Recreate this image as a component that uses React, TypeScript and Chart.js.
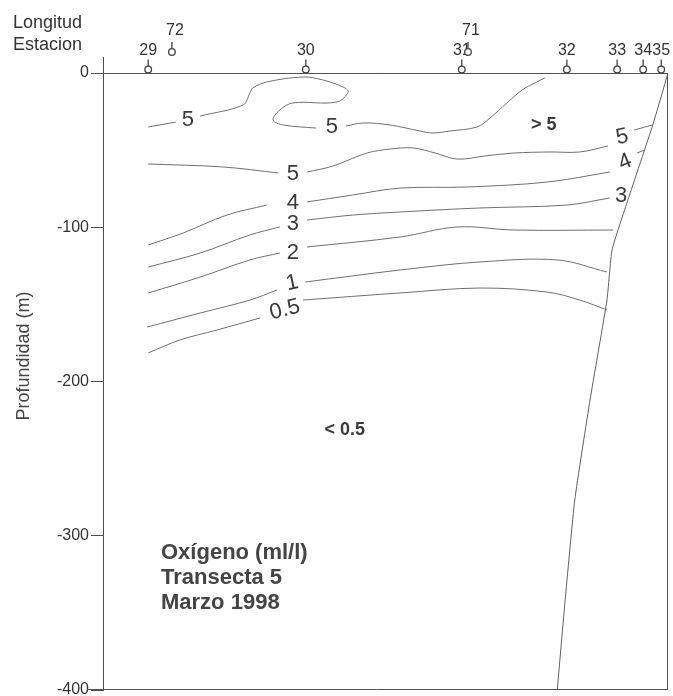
import React, { useEffect, useRef } from "react";
import { Chart, registerables } from "chart.js";

Chart.register(...registerables);

const FONT = '"Liberation Sans", Arial, Helvetica, sans-serif';

// ---- Data ----
const depthMin = -400;
const depthMax = 0;
const depthStep = 100;

// stations along the transect (relative distance 0..100)
const stationNames = ["29", "72", "30", "31", "71", "32", "33", "34", "35"];
const stationX = [8.0, 12.2, 35.9, 63.5, 64.6, 82.1, 91.0, 95.6, 98.8];
const stationRaised = [false, true, false, false, true, false, false, false, false];

type P = [number, number] | null;

// isolines (x, depth m); null = gap for the label
const iso5Upper: P[] = [
  [8.0, -35.0], [12.9, -31.8], null,
  [17.2, -27.9], [24.8, -20.7], [26.0, -13.0], [26.5, -9.7], [29.0, -5.8],
  [35.4, -2.6], [38.9, -4.5], [42.5, -9.1], [43.4, -12.3], [41.4, -18.8],
  [33.6, -19.4], [31.3, -24.0], [30.1, -30.5], [31.9, -33.7], [37.7, -35.7], null,
  [43.0, -34.4], [46.0, -32.4], [50.8, -33.7], [56.1, -37.6], [58.4, -38.9],
  [61.4, -37.6], [66.2, -35.0], [68.5, -29.2], [71.5, -19.4], [74.2, -11.0],
  [76.8, -5.8], [78.2, -3.2],
];
const iso5: P[] = [
  [8.0, -59.0], [21.2, -60.9], [31.0, -64.8], null,
  [36.1, -64.2], [40.7, -60.3], [46.7, -51.9], [50.8, -49.3], [54.9, -48.6],
  [58.8, -51.9], [62.7, -55.8], [67.6, -53.8], [72.6, -51.9], [79.1, -51.2],
  [84.4, -51.2], [89.4, -47.3], null,
  [94.0, -37.0], [97.2, -33.7],
];
const iso4: P[] = [
  [8.0, -111.5], [14.2, -103.7], [21.9, -92.1], [29.0, -85.6], null,
  [36.1, -83.6], [44.2, -79.1], [52.6, -74.6], [64.4, -73.9], [78.6, -70.7],
  [89.7, -64.2], null,
  [94.5, -51.9], [95.9, -49.9],
];
const iso3: P[] = [
  [8.0, -125.8], [17.2, -116.7], [26.0, -105.0], [31.3, -99.8], null,
  [36.1, -95.3], [44.2, -92.1], [52.6, -90.1], [66.7, -87.5], [82.1, -85.6],
  [89.7, -81.0],
];
const iso2: P[] = [
  [8.0, -142.6], [17.2, -132.3], [26.0, -121.2], [31.3, -116.7], null,
  [36.1, -112.8], [52.6, -106.3], [62.7, -99.8], [72.6, -101.8], [90.3, -101.8],
];
const iso1: P[] = [
  [7.8, -164.7], [17.2, -155.6], [26.0, -147.2], [30.8, -140.7], null,
  [35.8, -135.5], [52.6, -127.7], [66.7, -122.5], [80.4, -121.2], [89.2, -129.0],
];
const iso05: P[] = [
  [8.0, -181.5], [13.6, -173.1], [20.2, -166.6], [27.8, -158.8], null,
  [35.4, -147.2], [52.6, -142.6], [66.7, -139.4], [78.6, -142.0], [84.4, -147.2],
  [89.2, -153.6],
];
// sea floor / slope
const bottomProfile: P[] = [
  [100, 0], [97.3, -33.7], [92.9, -82.3], [90.1, -114.7], [89.2, -147.1],
  [86.2, -212.0], [83.5, -276.8], [81.8, -341.6], [80.4, -400],
];

// contour labels
const labelText = ["5", "5", "> 5", "5", "5", "4", "4", "3", "3", "2", "1", "0.5", "< 0.5"];
const labelX = [15.0, 40.5, 78.0, 33.6, 91.9, 33.6, 92.4, 33.6, 91.7, 33.6, 33.5, 32.2, 42.8];
const labelY = [-30.5, -35.0, -33.7, -65.5, -41.5, -84.3, -57.7, -97.9, -79.7, -116.7, -136.1, -153.6, -231.4];
const labelBold = [false, false, true, false, false, false, false, false, false, false, false, false, true];
const labelRot = [0, 0, 0, 0, -12, 0, -22, 0, 0, 0, -12, -14, 0];

const titleLines = ["Oxígeno (ml/l)", "Transecta 5", "Marzo 1998"];

function segments(pts: P[]) {
  const out: { x: number; y: number }[][] = [];
  let cur: { x: number; y: number }[] = [];
  for (const p of pts) {
    if (p === null) {
      if (cur.length) out.push(cur);
      cur = [];
    } else cur.push({ x: p[0], y: p[1] });
  }
  if (cur.length) out.push(cur);
  return out;
}

export default function App() {
  const ref = useRef<HTMLCanvasElement>(null);

  useEffect(() => {
    const canvas = ref.current;
    if (!canvas) return;
    const datasets: any[] = [];
    const add = (pts: P[], color: string, tension: number) => {
      for (const seg of segments(pts)) {
        datasets.push({
          data: seg,
          showLine: true,
          borderColor: color,
          borderWidth: 1,
          pointRadius: 0,
          tension,
          fill: false,
        });
      }
    };
    const lineColor = "#707070";
    add(iso5Upper, lineColor, 0.35);
    add(iso5, lineColor, 0.35);
    add(iso4, lineColor, 0.35);
    add(iso3, lineColor, 0.35);
    add(iso2, lineColor, 0.35);
    add(iso1, lineColor, 0.35);
    add(iso05, lineColor, 0.35);
    add(bottomProfile, "#606060", 0.15);

    const overlay = {
      id: "overlay",
      afterDraw(chart: any) {
        const { ctx, chartArea: a, scales } = chart;
        const xs = scales.x;
        const ys = scales.y;
        ctx.save();
        // frame
        ctx.strokeStyle = "#505050";
        ctx.lineWidth = 1;
        ctx.beginPath();
        ctx.moveTo(a.left - 12, Math.round(a.top) + 0.5);
        ctx.lineTo(a.right, Math.round(a.top) + 0.5);
        ctx.moveTo(Math.round(a.right) - 0.5, a.top);
        ctx.lineTo(Math.round(a.right) - 0.5, a.bottom);
        ctx.moveTo(a.left - 16, Math.round(a.bottom) - 0.5);
        ctx.lineTo(a.right, Math.round(a.bottom) - 0.5);
        ctx.moveTo(Math.round(a.left) + 0.5, a.top - 16);
        ctx.lineTo(Math.round(a.left) + 0.5, a.top);
        ctx.stroke();

        // stations
        ctx.font = `16px ${FONT}`;
        ctx.textAlign = "center";
        ctx.textBaseline = "alphabetic";
        for (let i = 0; i < stationNames.length; i++) {
          const px = xs.getPixelForValue(stationX[i]);
          const cy = stationRaised[i] ? a.top - 21 : a.top - 3.5;
          ctx.strokeStyle = "#404040";
          ctx.lineWidth = 1.3;
          ctx.beginPath();
          ctx.moveTo(px, cy - 3.5);
          ctx.lineTo(px, cy - 10);
          ctx.stroke();
          ctx.beginPath();
          ctx.arc(px, cy, 3.3, 0, Math.PI * 2);
          ctx.fillStyle = "#fff";
          ctx.fill();
          ctx.stroke();
          ctx.fillStyle = "#333";
          ctx.fillText(stationNames[i], px + (stationRaised[i] ? 3 : 0), cy - (stationRaised[i] ? 17 : 15));
        }

        // header text
        ctx.textAlign = "left";
        ctx.fillStyle = "#333";
        ctx.font = `18px ${FONT}`;
        ctx.fillText("Longitud", 13, 28);
        ctx.fillText("Estacion", 13, 50);

        // y-axis title
        ctx.save();
        ctx.translate(29, 356);
        ctx.rotate(-Math.PI / 2);
        ctx.textAlign = "center";
        ctx.font = `18px ${FONT}`;
        ctx.fillStyle = "#444";
        ctx.fillText("Profundidad (m)", 0, 0);
        ctx.restore();

        // contour labels
        for (let i = 0; i < labelText.length; i++) {
          const px = xs.getPixelForValue(labelX[i]);
          const py = ys.getPixelForValue(labelY[i]);
          ctx.save();
          ctx.translate(px, py);
          ctx.rotate((labelRot[i] * Math.PI) / 180);
          ctx.textAlign = "center";
          ctx.textBaseline = "middle";
          ctx.fillStyle = "#3a3a3a";
          ctx.font = labelBold[i] ? `bold 18px ${FONT}` : `22px ${FONT}`;
          ctx.fillText(labelText[i], 0, 0);
          ctx.restore();
        }

        // title block
        ctx.textAlign = "left";
        ctx.textBaseline = "alphabetic";
        ctx.fillStyle = "#444";
        ctx.font = `bold 22px ${FONT}`;
        titleLines.forEach((t, i) => ctx.fillText(t, 161, 559 + i * 25));
        ctx.restore();
      },
    };

    const chart = new Chart(canvas, {
      type: "scatter",
      data: { datasets },
      options: {
        responsive: false,
        maintainAspectRatio: false,
        animation: false,
        devicePixelRatio: 1,
        layout: { padding: { top: 73, right: 5, bottom: 6, left: 0 } },
        plugins: { legend: { display: false }, tooltip: { enabled: false } },
        scales: {
          x: { type: "linear", min: 0, max: 100, display: false },
          y: {
            type: "linear",
            position: "left",
            min: depthMin,
            max: depthMax,
            afterFit: (s: any) => {
              s.width = 103;
              s.paddingTop = 0;
              s.paddingBottom = 0;
            },
            ticks: {
              stepSize: depthStep,
              color: "#333",
              padding: 2,
              font: { family: FONT, size: 16 },
              callback: (v: any) => String(v),
            },
            grid: { drawOnChartArea: false, drawTicks: true, tickLength: 12, color: "#505050" },
            border: { display: true, color: "#505050" },
          },
        },
      },
      plugins: [overlay],
    });
    return () => chart.destroy();
  }, []);

  return (
    <div style={{ position: "absolute", left: 0, top: 0, width: 673, height: 696, background: "#fff" }}>
      <canvas ref={ref} width={673} height={696} style={{ display: "block" }} />
    </div>
  );
}
